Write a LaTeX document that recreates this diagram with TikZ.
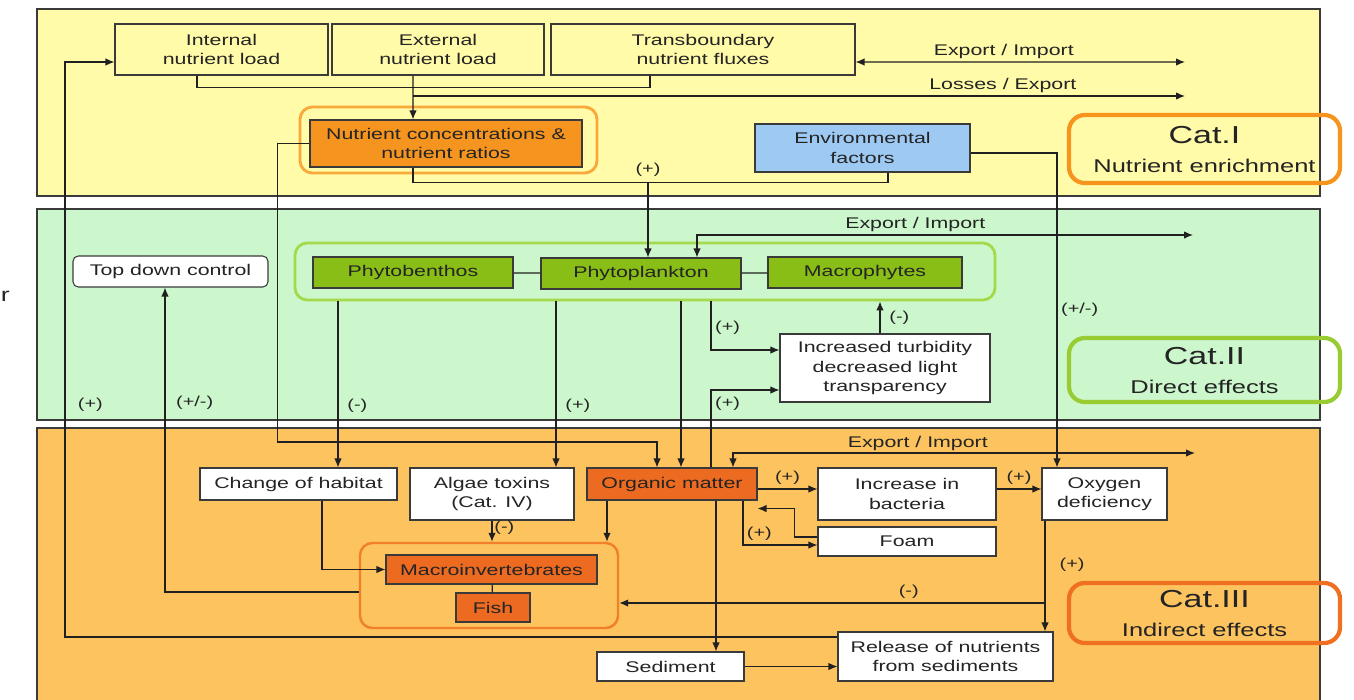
\documentclass[tikz,border=0pt]{standalone}
\usepackage{fontspec}
\setmainfont{Liberation Sans}[FakeStretch=1.38]
\usepackage{xcolor}
\usepackage{tikz}
\usetikzlibrary{arrows.meta}
\definecolor{EutInk}{HTML}{242424}
\definecolor{EutLine}{HTML}{3A3A3A}
\definecolor{EutArrow}{HTML}{202020}
\definecolor{EutYellow}{HTML}{FFFBA8}
\definecolor{EutMint}{HTML}{CCF7CC}
\definecolor{EutSand}{HTML}{FCC35F}
\definecolor{EutOrange}{HTML}{F5951F}
\definecolor{EutAmber}{HTML}{F8A93A}
\definecolor{EutBlue}{HTML}{9DC9F2}
\definecolor{EutGreen}{HTML}{88BE16}
\definecolor{EutLime}{HTML}{A3D94A}
\definecolor{EutRust}{HTML}{ED6A21}
\definecolor{EutCoral}{HTML}{F27F2A}
\definecolor{EutCatOne}{HTML}{F7941D}
\definecolor{EutCatTwo}{HTML}{99CC33}
\definecolor{EutCatThree}{HTML}{F07022}

\begin{document}
\begin{tikzpicture}[
    x=0.2mm, y=-0.2mm,
    every node/.style={font=\fontsize{8.8}{11}\selectfont, text=EutInk},
    box/.style={
        rectangle,
        draw=EutLine,
        line width=0.6pt,
        fill=white,
        align=center,
        inner sep=2pt
    },
    loadbox/.style={box, fill=none},
    nutbox/.style={box, fill=EutOrange},
    envbox/.style={box, fill=EutBlue},
    plantbox/.style={box, fill=EutGreen},
    faunabox/.style={box, fill=EutRust},
    grpframe/.style={
        rectangle,
        rounded corners=7pt,
        line width=1.6pt,
        inner sep=0pt
    },
    catbox/.style={
        rectangle,
        rounded corners=9pt,
        line width=2.4pt,
        align=center,
        minimum width=54.2mm,
        font=\fontsize{10.5}{16.5}\selectfont
    },
    bandrect/.style={draw=EutLine, line width=0.6pt},
    arrow/.style={
        -{Latex[length=1.8mm,width=1.5mm]},
        line width=0.7pt,
        color=EutArrow
    },
    twoway/.style={
        {Latex[length=1.8mm,width=1.5mm]}-{Latex[length=1.8mm,width=1.5mm]},
        line width=0.7pt,
        color=EutArrow
    },
    link/.style={line width=0.7pt, color=EutArrow},
    sign/.style={font=\fontsize{8.2}{10}\selectfont, inner sep=2pt}
]

\useasboundingbox (0,0) rectangle (1354,699);
\fill[white] (0,0) rectangle (1354,699);

% bands
\draw[bandrect, fill=EutYellow] (37,9) rectangle (1320,196);
\draw[bandrect, fill=EutMint] (37,209) rectangle (1320,420);
\draw[bandrect, fill=EutSand] (37,428) rectangle (1320,710);

\node[font=\fontsize{11}{12}\selectfont, anchor=east, inner sep=0pt] (cutoff) at (10,296) {r};

% group frames
\node[grpframe, draw=EutAmber, minimum width=59.4mm, minimum height=13.2mm] (nutgrp) at (448.5,140) {};
\node[grpframe, draw=EutLime, minimum width=140mm, minimum height=11.4mm] (plantgrp) at (645,271.5) {};
\node[grpframe, draw=EutCoral, line width=1.4pt, minimum width=51.6mm, minimum height=17mm] (faunagrp) at (489,585.5) {};

% category boxes
\node[catbox, draw=EutCatOne, minimum height=13.6mm] (cat1) at (1204.5,149) {{\fontsize{14}{16}\selectfont Cat.I}\\Nutrient enrichment};
\node[catbox, draw=EutCatTwo, minimum height=12.8mm] (cat2) at (1204.5,370) {{\fontsize{14}{16}\selectfont Cat.II}\\Direct effects};
\node[catbox, draw=EutCatThree, minimum height=12mm] (cat3) at (1204.5,613) {{\fontsize{14}{16}\selectfont Cat.III}\\Indirect effects};

% Cat. I : loads
\node[loadbox, minimum width=42.6mm, minimum height=10.2mm] (int) at (221.5,49.5) {Internal\\nutrient load};
\node[loadbox, minimum width=42.4mm, minimum height=10.2mm] (ext) at (438,49.5) {External\\nutrient load};
\node[loadbox, minimum width=60.8mm, minimum height=10.2mm] (trans) at (703,49.5) {Transboundary\\nutrient fluxes};
\node[nutbox, minimum width=54.4mm, minimum height=9.4mm] (nut) at (446,143.5) {Nutrient concentrations \&\\nutrient ratios};
\node[envbox, minimum width=43mm, minimum height=9.6mm] (env) at (862.5,148) {Environmental\\factors};

% Cat. II : primary producers
\node[box, rounded corners=3pt, minimum width=39mm, minimum height=6.2mm] (topdown) at (170.5,271.5) {Top down control};
\node[plantbox, minimum width=40mm, minimum height=6.2mm] (phybe) at (413,272.5) {Phytobenthos};
\node[plantbox, minimum width=40mm, minimum height=6.2mm] (phypl) at (641,273.5) {Phytoplankton};
\node[plantbox, minimum width=38.8mm, minimum height=6.2mm] (macro) at (865,272.5) {Macrophytes};
\node[box, minimum width=42mm, minimum height=13.6mm] (turb) at (885,368) {Increased turbidity\\decreased light\\transparency};

% Cat. III : indirect effects
\node[box, minimum width=39.4mm, minimum height=6.4mm] (habitat) at (298.5,484) {Change of habitat};
\node[box, minimum width=32.8mm, minimum height=10.4mm] (algae) at (492,494) {Algae toxins\\(Cat. IV)};
\node[faunabox, minimum width=34mm, minimum height=6.4mm] (org) at (672,484) {Organic matter};
\node[box, minimum width=35.6mm, minimum height=10.4mm] (bact) at (907,494) {Increase in\\bacteria};
\node[box, minimum width=35.6mm, minimum height=5.8mm] (foam) at (907,541.5) {Foam};
\node[box, minimum width=25mm, minimum height=10.4mm] (oxy) at (1104.5,494) {Oxygen\\deficiency};
\node[faunabox, minimum width=42.2mm, minimum height=5.8mm] (macroinv) at (491.5,569.5) {Macroinvertebrates};
\node[faunabox, minimum width=14.8mm, minimum height=5.8mm] (fish) at (493,607.5) {Fish};
\node[box, minimum width=29.4mm, minimum height=5.8mm] (sediment) at (670.5,666.5) {Sediment};
\node[box, minimum width=43mm, minimum height=9.8mm] (release) at (945.5,656.5) {Release of nutrients\\from sediments};

% free ends and junctions
\coordinate (tradeout) at (1185,62);
\coordinate (lossout) at (1185,96);
\coordinate (nutjoin) at (648,182);
\coordinate (tradeout2) at (1193,235);
\coordinate (tradeout3) at (1195,453);
\coordinate (loopleft) at (65,405);

% connectors, Cat. I
\draw[link] ([xshift=-4.9mm]int.south) -- ++(0,12) -| ([xshift=-10.6mm]trans.south);
\draw[arrow] ([xshift=-5mm]ext.south) -- ([xshift=-6.6mm]nut.north);
\draw[arrow] ([xshift=-5mm]ext.south |- lossout) -- (lossout)
    node[above, pos=0.764, inner sep=1.5pt] (losslbl) {Losses / Export};
\draw[twoway] ([yshift=-2.5mm]trans.east) -- (tradeout)
    node[above, pos=0.45, inner sep=1.5pt] (tradelbl) {Export / Import};
\draw[link] ([xshift=-6.6mm]nut.south) -- ++(0,15) -| ([xshift=5.1mm]env.south);
\draw[arrow] (nutjoin) node[sign, above=1pt] (plusnut) {(+)} -- (nutjoin |- phypl.north);
\draw[arrow] ([yshift=-1mm]env.east) -| ([xshift=-9.5mm]oxy.north)
    node[sign, right, pos=0.75] (pmenv) {(+/-)};
\draw[arrow] (nut.west) -- ++(-32,0) -- ++(0,298.5) -| ([xshift=-3mm]org.north);

% connectors, Cat. II
\draw[twoway] ([xshift=11.2mm]phypl.north) |- (tradeout2)
    node[above, pos=0.72, inner sep=1.5pt] (tradelbl2) {Export / Import};
\draw[link] (phybe) -- (phypl);
\draw[link] (phypl) -- (macro);
\draw[arrow] ([yshift=-1.3mm]faunagrp.west) -| ([xshift=-1.1mm]topdown.south)
    node[sign, right=4pt, pos=0.81] (pmtop) {(+/-)};
\draw[arrow] ([yshift=3.9mm]release.west) -| (loopleft)
    node[sign, right=5pt] (plusloop) {(+)} |- ([yshift=-2.5mm]int.west);
\draw[arrow] ([xshift=7.9mm]habitat.north |- plantgrp.south) -- ([xshift=7.9mm]habitat.north)
    node[sign, right=3pt, pos=0.63] (minhab) {(-)};
\draw[arrow] ([xshift=12.8mm]algae.north |- plantgrp.south) -- ([xshift=12.8mm]algae.north)
    node[sign, right=3pt, pos=0.63] (plusalg) {(+)};
\draw[arrow] ([xshift=1.8mm]org.north |- plantgrp.south) -- ([xshift=1.8mm]org.north);
\draw[arrow] ([xshift=7.8mm]org.north |- plantgrp.south) |- ([yshift=3.6mm]turb.west)
    node[sign, right, pos=0.27] (plusturb) {(+)};
\draw[arrow] ([xshift=7.8mm]org.north) |- ([yshift=-4.4mm]turb.west)
    node[sign, right, pos=0.41] (pluslight) {(+)};
\draw[arrow] ([xshift=-1mm]turb.north) -- ([xshift=-1mm]turb.north |- plantgrp.south)
    node[sign, right=3pt, midway] (minturb) {(-)};

% connectors, Cat. III
\draw[twoway] ([xshift=12.2mm]org.north) |- (tradeout3)
    node[above, pos=0.7, inner sep=1pt] (tradelbl3) {Export / Import};
\draw[arrow] ([xshift=4.7mm]habitat.south) |- (macroinv.west);
\draw[arrow] (algae.south) -- (algae.south |- faunagrp.north)
    node[sign, right, pos=0.35, inner sep=1pt] (minalg) {(-)};
\draw[arrow] ([xshift=-13mm]org.south) -- ([xshift=-13mm]org.south |- faunagrp.north);
\draw[arrow] ([yshift=-1mm]org.east) -- ([yshift=-1mm]org.east -| bact.west)
    node[sign, above, midway] (plusbact) {(+)};
\draw[arrow] ([yshift=0.9mm]foam.west) -- ++(-23,0) |- ([yshift=-1.6mm]org.south east);
\draw[arrow] ([xshift=14.2mm]org.south) |- ([yshift=-0.7mm]foam.west)
    node[sign, above, pos=0.61] (plusfoam) {(+)};
\draw[arrow] ([yshift=1mm]bact.east) -- ([yshift=1mm]bact.east -| oxy.west)
    node[sign, above, midway] (plusoxy) {(+)};
\draw[arrow] ([xshift=-11.9mm]oxy.south) -- ([xshift=-11.9mm]oxy.south |- release.north)
    node[sign, right=6pt, pos=0.4] (plusrel) {(+)};
\draw[arrow] ([xshift=-11.9mm]oxy.south) |- ([yshift=-3.5mm]faunagrp.east)
    node[sign, above, pos=0.66] (minfauna) {(-)};
\draw[arrow] ([xshift=8.8mm]org.south) -- ([xshift=8.8mm]org.south |- sediment.north);
\draw[arrow] (sediment.east) -- (sediment.east -| release.west);
\draw[link] (macroinv) -- (fish);

\end{tikzpicture}
\end{document}
